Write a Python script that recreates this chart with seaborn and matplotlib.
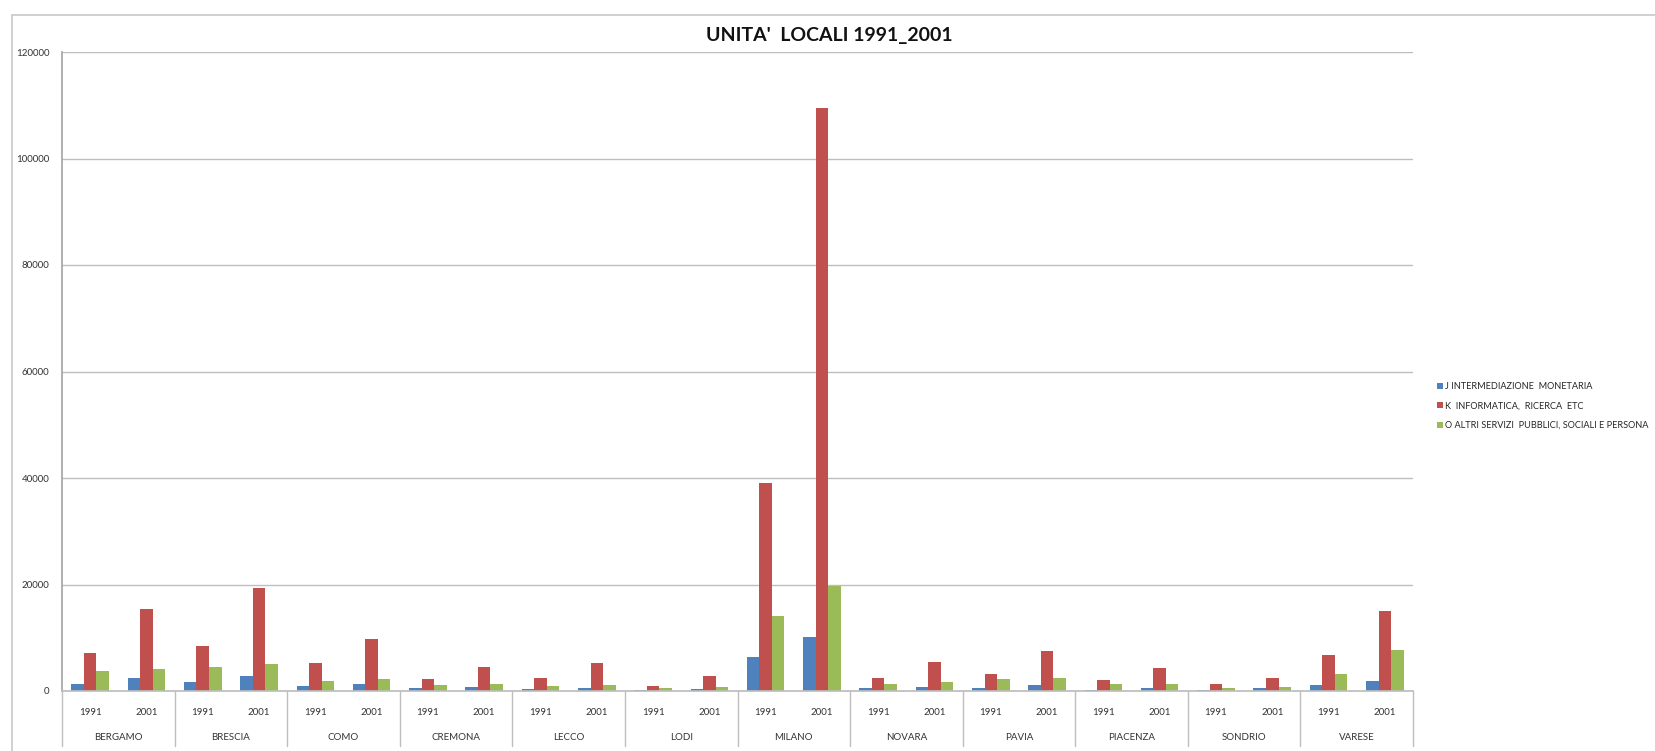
import numpy as np
import pandas as pd
import matplotlib
matplotlib.use("Agg")
import matplotlib.pyplot as plt
import matplotlib.transforms as mtransforms
from matplotlib.lines import Line2D
import seaborn as sns

# ---- data -------------------------------------------------------------
cities = ["BERGAMO", "BRESCIA", "COMO", "CREMONA", "LECCO", "LODI",
          "MILANO", "NOVARA", "PAVIA", "PIACENZA", "SONDRIO", "VARESE"]
years = ["1991", "2001"]
series_names = ["J INTERMEDIAZIONE  MONETARIA",
                "K  INFORMATICA,  RICERCA  ETC",
                "O ALTRI SERVIZI  PUBBLICI, SOCIALI E PERSONA"]

# values ordered city by city, 1991 then 2001
j_intermediazione = [1380, 2380, 1690, 2820, 940, 1250, 500, 750, 310, 500, 250, 440,
                     6440, 10200, 500, 750, 630, 1070, 250, 500, 250, 500, 1070, 1880]
k_informatica = [7210, 15420, 8460, 19370, 5330, 9780, 2190, 4580, 2380, 5330, 940, 2820,
                 39100, 109400, 2510, 5390, 3130, 7590, 2010, 4260, 1250, 2380, 6770, 14980]
o_altri_servizi = [3760, 4140, 4580, 5020, 1880, 2190, 1190, 1380, 940, 1130, 630, 750,
                   14070, 19630, 1380, 1760, 2190, 2380, 1250, 1250, 630, 750, 3260, 7770]

yticks = [0, 20000, 40000, 60000, 80000, 100000, 120000]
colors = ["#4F81BD", "#C0504D", "#9BBB59"]

# ---- long table --------------------------------------------------------
keys = [f"{c} {y}" for c in cities for y in years]
rows = []
for name, vals in zip(series_names, [j_intermediazione, k_informatica, o_altri_servizi]):
    for k, v in zip(keys, vals):
        rows.append({"cat": k, "serie": name, "valore": v})
df = pd.DataFrame(rows)

# ---- figure ------------------------------------------------------------
sns.set_theme(style="white")
plt.rcParams["font.family"] = ["Lato", "DejaVu Sans"]

W, H = 1655, 751
fig = plt.figure(figsize=(W / 100, H / 100), dpi=100)
fig.patch.set_facecolor("white")

ax_l, ax_r, ax_t, ax_b = 62, 1413, 52, 691
ax = fig.add_axes([ax_l / W, 1 - ax_b / H, (ax_r - ax_l) / W, (ax_b - ax_t) / H])

sns.barplot(data=df, x="cat", y="valore", hue="serie", order=keys,
            hue_order=series_names, palette=colors, saturation=1,
            width=0.667, gap=0, linewidth=0, ax=ax)

ax.set_xlim(-0.5, len(keys) - 0.5)
ax.set_ylim(0, 120000)
ax.set_yticks(yticks)
ax.set_yticklabels([str(v) for v in yticks], fontsize=7, color="#333333")
ax.set_xticks(range(len(keys)))
ax.set_xticklabels([y for c in cities for y in years], fontsize=7, color="#333333")
ax.tick_params(axis="both", length=0)
ax.tick_params(axis="x", pad=12)
ax.tick_params(axis="y", pad=9)
ax.set_xlabel("")
ax.set_ylabel("")
ax.yaxis.grid(True, color="#BEBEBE", linewidth=1)
ax.set_axisbelow(True)
for s in ["top", "right"]:
    ax.spines[s].set_visible(False)
ax.spines["left"].set_color("#A6A6A6")
ax.spines["bottom"].set_color("#BEBEBE")

# city labels and group separators under the axis
trans = mtransforms.blended_transform_factory(ax.transData, ax.transAxes)
h_ax = ax_b - ax_t
for i, c in enumerate(cities):
    ax.text(2 * i + 0.5, -46 / h_ax, c, transform=trans, ha="center", va="center",
            fontsize=7, color="#333333")
for b in np.arange(-0.5, len(keys), 2):
    ax.add_line(Line2D([b, b], [0, -55 / h_ax], transform=trans, color="#BEBEBE",
                       linewidth=1, clip_on=False))

# legend
sns.move_legend(ax, "center left", bbox_to_anchor=((1437 - ax_l) / (ax_r - ax_l), (ax_b - 406) / h_ax),
                frameon=False, title=None, fontsize=6.6, handlelength=0.6,
                handleheight=0.6, handletextpad=0.3, labelspacing=1.15, borderpad=0,
                borderaxespad=0)

# title
fig.text(829 / W, 1 - 35 / H, "UNITA'  LOCALI 1991_2001", ha="center", va="center",
         fontsize=14, fontweight="bold", color="#111111")

# chart area border
fig.add_artist(Line2D([12 / W, 1], [1 - 15 / H, 1 - 15 / H], transform=fig.transFigure,
                      color="#C8C8C8", linewidth=1.2))
fig.add_artist(Line2D([12 / W, 12 / W], [0, 1 - 15 / H], transform=fig.transFigure,
                      color="#C8C8C8", linewidth=1.2))

fig.savefig("out.png", dpi=100, facecolor="white")
